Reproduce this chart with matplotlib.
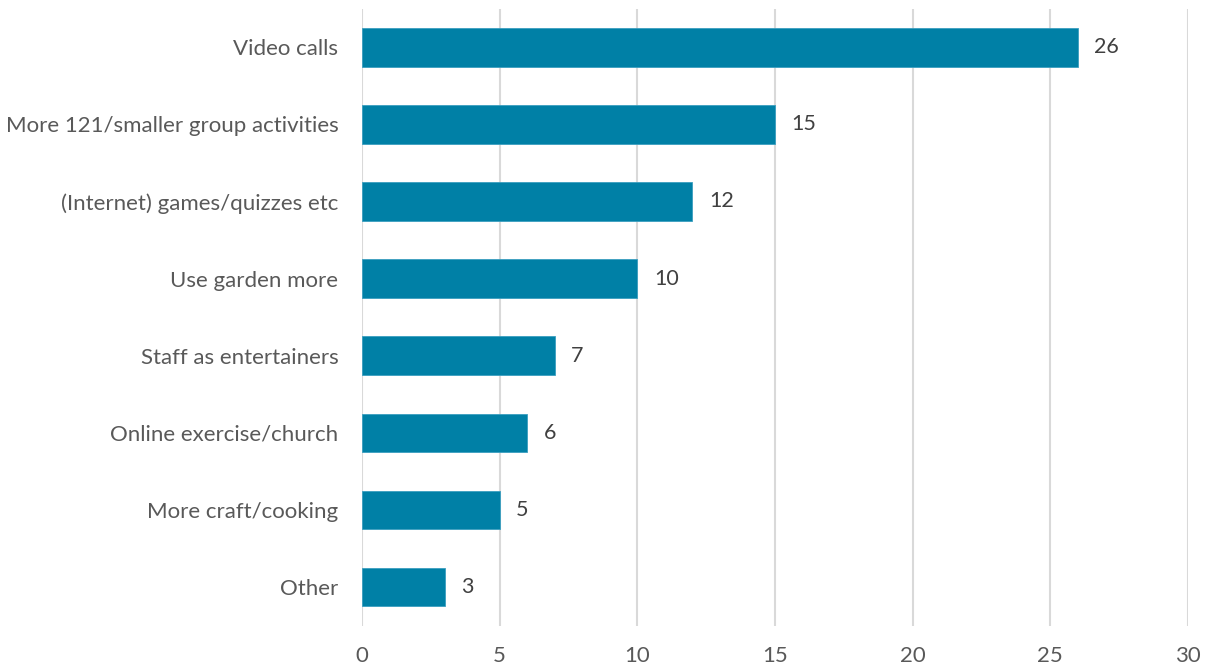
import matplotlib
matplotlib.use("Agg")
import matplotlib.pyplot as plt

categories = ["Video calls", "More 121/smaller group activities", "(Internet) games/quizzes etc",
              "Use garden more", "Staff as entertainers", "Online exercise/church",
              "More craft/cooking", "Other"]
values = [26, 15, 12, 10, 7, 6, 5, 3]
xticks = [0, 5, 10, 15, 20, 25, 30]

plt.rcParams['font.family'] = ['Lato', 'DejaVu Sans']

fig = plt.figure(figsize=(12.09, 6.67), dpi=100)
ax = fig.add_axes([0.2994, 0.062, 0.9826 - 0.2994, 0.987 - 0.062])

y = list(range(len(categories)))
ax.barh(y, values, height=0.5, color="#0080A6", edgecolor="#3a9ec0", linewidth=0.6, zorder=3)
for yi, v in zip(y, values):
    ax.text(v + 0.6, yi, str(v), va="center", ha="left", fontsize=15.5, color="#404040")

ax.set_ylim(len(categories) - 0.5, -0.5)
ax.set_xlim(0, 30)
ax.set_yticks(y)
ax.set_yticklabels(categories, fontsize=16, color="#595959")
ax.set_xticks(xticks)
ax.set_xticklabels([str(t) for t in xticks], fontsize=16, color="#595959")
ax.tick_params(axis="both", length=0)
ax.tick_params(axis="y", pad=17)
ax.tick_params(axis="x", pad=15)
ax.grid(axis="x", color="#d9d9d9", linewidth=1.5, zorder=0)
for s in ax.spines.values():
    s.set_visible(False)

fig.savefig("out.png", dpi=100, facecolor="white")
